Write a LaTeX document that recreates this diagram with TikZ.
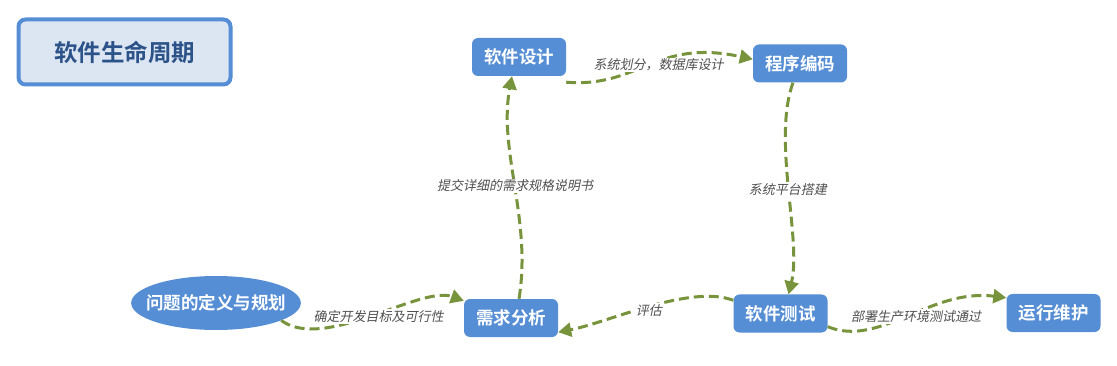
\documentclass[tikz,border=0pt]{standalone}
\usepackage{fontspec}
\usepackage{tikz}
\usepackage{xcolor}
\usetikzlibrary{shapes, arrows.meta, positioning}
\newfontfamily\cjk{Noto Sans CJK SC}
\newfontfamily\cjkbold{Noto Sans CJK SC Bold}
\newfontfamily\cjkslant[FakeSlant=0.2]{Noto Sans CJK SC}

\definecolor{stageblue}{RGB}{85,142,213}
\definecolor{titlefill}{RGB}{220,230,242}
\definecolor{titletext}{RGB}{44,82,138}
\definecolor{flowgreen}{RGB}{119,147,60}
\definecolor{labelgray}{RGB}{80,80,80}

\tikzset{
    stagebox/.style={draw=none, fill=stageblue, rounded corners=6pt, text=white,
        minimum width=94pt, minimum height=38pt, font=\cjkbold\fontsize{17.5}{20}\selectfont},
    flow/.style={draw=flowgreen, line width=3pt, dash pattern=on 10pt off 5pt,
        -{Triangle[length=13pt,width=14pt]}},
    lbl/.style={fill=white, inner sep=1pt, text=labelgray, font=\cjkslant\fontsize{13}{15}\selectfont}
}

\begin{document}
\begin{tikzpicture}[x=1pt, y=-1pt]
        \useasboundingbox (0,0) rectangle (1117,366);
        % title
        \node[draw=stageblue, line width=4pt, fill=titlefill, rounded corners=7pt,
            minimum width=212pt, minimum height=65pt, text=titletext,
            font=\cjkbold\fontsize{23.5}{26}\selectfont] (title) at (124.5,52) {软件生命周期};
        % stages
        \node[ellipse, fill=stageblue, text=white, minimum width=168pt, minimum height=54pt,
            inner xsep=-10pt, inner ysep=0pt, font=\cjkbold\fontsize{17.5}{20}\selectfont] (plan) at (216,303) {问题的定义与规划};
        \node[stagebox] (req) at (511,318) {需求分析};
        \node[stagebox] (design) at (519,57) {软件设计};
        \node[stagebox] (code) at (800,63.5) {程序编码};
        \node[stagebox] (test) at (780.5,313.5) {软件测试};
        \node[stagebox] (ops) at (1053.5,313) {运行维护};
        % connectors
        \draw[flow] (plan.-15) .. controls (325,352) and (420,285) .. ([yshift=-2pt]req.north west)
            node[lbl, pos=0.5, xshift=6pt] {确定开发目标及可行性};
        \draw[flow] ([xshift=8pt]req.north) .. controls (532,220) and (498,150) .. ([xshift=-7pt]design.south)
            node[lbl, pos=0.5] {提交详细的需求规格说明书};
        \draw[flow] ([yshift=-6pt]design.south east) .. controls (640,88) and (655,38) .. ([yshift=-15pt]code.north west)
            node[lbl, pos=0.5, xshift=8pt] {系统划分，数据库设计};
        \draw[flow] ([xshift=-7pt]code.south) .. controls (772,140) and (802,240) .. ([xshift=8pt]test.north)
            node[lbl, pos=0.5] {系统平台搭建};
        \draw[flow] ([yshift=-6pt]test.north west) .. controls (690,284) and (610,322) .. ([yshift=5pt]req.south east)
            node[lbl, pos=0.5, yshift=-4pt] {评估};
        \draw[flow] ([yshift=6pt]test.south east) .. controls (880,348) and (930,288) .. ([yshift=-4pt]ops.north west)
            node[lbl, pos=0.5, xshift=8pt] {部署生产环境测试通过};
    \end{tikzpicture}
\end{document}
